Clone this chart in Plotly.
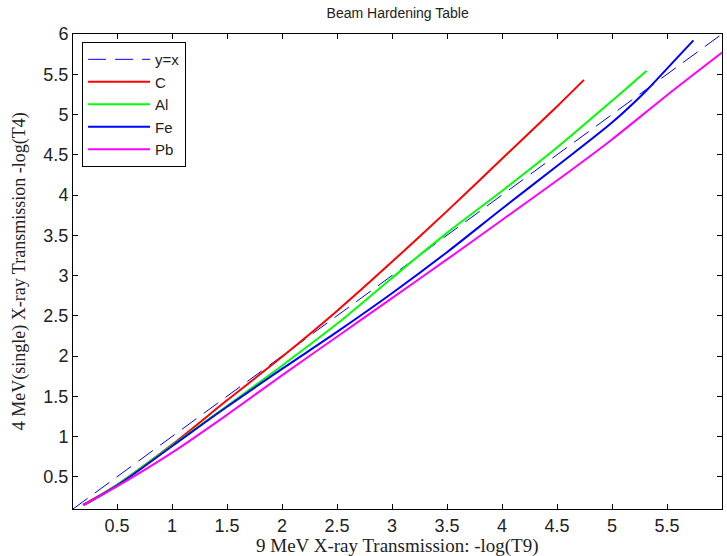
import plotly.graph_objects as go

# ---- data ----
yx_x = [0.1, 6.0]
yx_y = [0.1, 6.0]

c_x = [0.19, 0.5, 1.0, 1.5, 2.0, 2.5, 3.0, 3.5, 4.0, 4.5, 4.745]
c_y = [0.15, 0.40, 0.90, 1.45, 1.99, 2.56, 3.17, 3.80, 4.45, 5.10, 5.43]

al_x = [0.2, 0.5, 1.0, 1.5, 2.0, 2.5, 3.0, 3.5, 4.0, 4.5, 5.0, 5.315]
al_y = [0.15, 0.40, 0.89, 1.38, 1.88, 2.40, 2.97, 3.53, 4.05, 4.59, 5.17, 5.545]

fe_x = [0.2, 0.5, 1.0, 1.5, 2.0, 2.5, 3.0, 3.5, 4.0, 4.5, 5.0, 5.3, 5.5, 5.74]
fe_y = [0.15, 0.39, 0.88, 1.37, 1.84, 2.30, 2.78, 3.29, 3.83, 4.36, 4.90, 5.28, 5.57, 5.92]

pb_x = [0.2, 0.5, 1.0, 1.5, 2.0, 2.5, 3.0, 3.5, 4.0, 4.5, 5.0, 5.5, 6.0]
pb_y = [0.15, 0.38, 0.80, 1.27, 1.76, 2.24, 2.72, 3.20, 3.69, 4.18, 4.69, 5.24, 5.77]

tick_vals = [0.5, 1, 1.5, 2, 2.5, 3, 3.5, 4, 4.5, 5, 5.5, 6]
tick_text = ["0.5", "1", "1.5", "2", "2.5", "3", "3.5", "4", "4.5", "5", "5.5", "6"]

x_title = "9 MeV X-ray Transmission: -log(T9)"
y_title = "4 MeV(single) X-ray Transmission -log(T4)"
chart_title = "Beam Hardening Table"

fig = go.Figure()
fig.add_trace(go.Scatter(x=yx_x, y=yx_y, mode="lines", name="y=x",
                         line=dict(color="#0000FF", width=1, dash="18px,9px")))
fig.add_trace(go.Scatter(x=c_x, y=c_y, mode="lines", name="C",
                         line=dict(color="#FF0000", width=2, shape="spline", smoothing=0.8)))
fig.add_trace(go.Scatter(x=al_x, y=al_y, mode="lines", name="Al",
                         line=dict(color="#00FF00", width=2, shape="spline", smoothing=0.8)))
fig.add_trace(go.Scatter(x=fe_x, y=fe_y, mode="lines", name="Fe",
                         line=dict(color="#0000FF", width=2, shape="spline", smoothing=0.8)))
fig.add_trace(go.Scatter(x=pb_x, y=pb_y, mode="lines", name="Pb",
                         line=dict(color="#FF00FF", width=2, shape="spline", smoothing=0.8)))

axis_common = dict(
    showgrid=False, zeroline=False, showline=True, linecolor="black", linewidth=1,
    mirror="ticks", ticks="inside", ticklen=5, tickcolor="black", tickwidth=1,
    tickvals=tick_vals, ticktext=tick_text, automargin=False,
    tickfont=dict(family="Liberation Sans, Arial", size=18, color="#222222"),
)

serif = "Liberation Serif, Times New Roman"

fig.update_layout(
    width=727, height=556,
    margin=dict(l=73, r=5, t=34, b=47),
    paper_bgcolor="white", plot_bgcolor="white",
    title=dict(text=chart_title, x=0.547, xanchor="center",
               y=0.977, yanchor="middle", yref="container",
               font=dict(family="Liberation Sans, Arial", size=14, color="#222222")),
    xaxis=dict(range=[0.1, 6], **axis_common),
    yaxis=dict(range=[0.1, 6], **axis_common),
    legend=dict(x=0.014, y=0.983, xanchor="left", yanchor="top",
                bgcolor="white", bordercolor="black", borderwidth=1,
                itemwidth=62,
                font=dict(family="Liberation Sans, Arial", size=15, color="#222222")),
    showlegend=True,
    annotations=[
        dict(text=x_title, xref="paper", yref="paper", x=0.5, y=-0.078,
             xanchor="center", yanchor="middle", showarrow=False,
             font=dict(family=serif, size=19, color="#222222")),
        dict(text=y_title, xref="paper", yref="paper", x=-0.082, y=0.5,
             xanchor="center", yanchor="middle", showarrow=False, textangle=-90,
             font=dict(family=serif, size=18, color="#222222")),
    ],
)

fig.write_html("out.html", config={"displayModeBar": False},
               post_script="document.body.style.margin='0';")
